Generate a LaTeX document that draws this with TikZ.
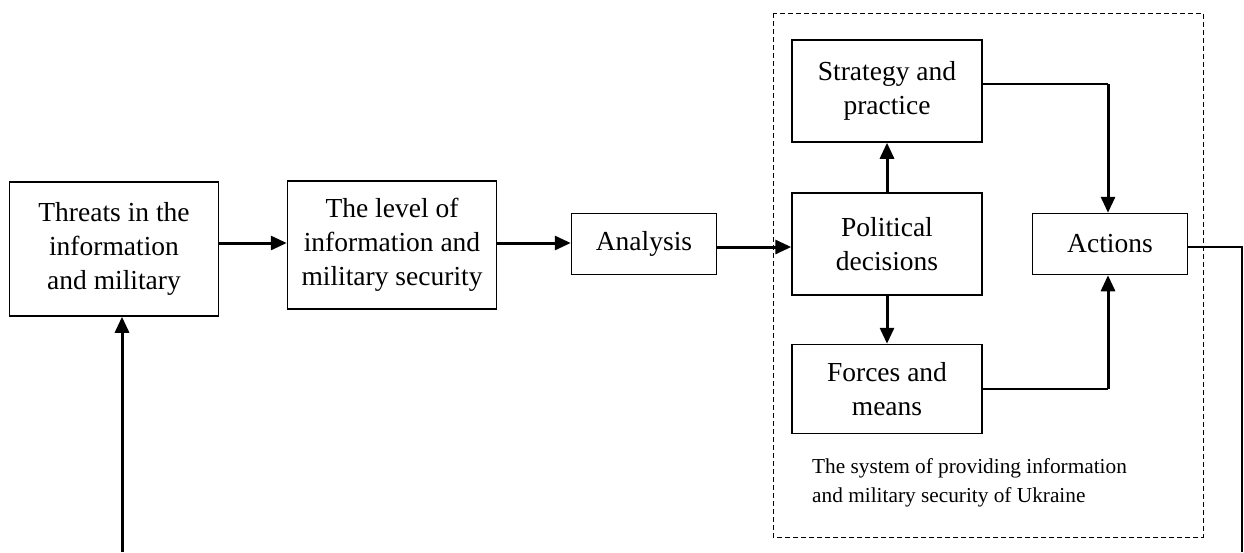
\documentclass[tikz,border=0pt]{standalone}
\usepackage{fontspec}
\setmainfont{Liberation Serif}
\usetikzlibrary{arrows.meta}

\begin{document}
\begin{tikzpicture}[x=1pt,y=-1pt,
	block/.style={draw, line width=1.5pt, align=center, inner sep=0pt,
		font=\fontsize{27.5}{34}\selectfont},
	link/.style={line width=3pt, -{Triangle[length=16pt,width=14pt]}}]
	\useasboundingbox (0,0) rectangle (1244,552);

	% system frame
	\draw [dash pattern=on 5pt off 3pt, line width=1pt] (773,13) rectangle (1203,537);
	\node [anchor=north west, align=left, inner sep=0pt,
		font=\fontsize{21.3}{29}\selectfont] (caption) at (812,458)
		{The system of providing information\\and military security of Ukraine};

	% blocks
	\node [block, minimum width=209, minimum height=134] (threats) at (114,249)
		{Threats in the\\information\\and military};
	\node [block, minimum width=209, minimum height=128] (level) at (392,245)
		{The level of\\information and\\military security};
	\node [block, minimum width=145, minimum height=61] (analysis) at (644,244) {Analysis};
	\node [block, minimum width=190, minimum height=102] (political) at (887,244)
		{Political\\decisions};
	\node [block, minimum width=190, minimum height=102] (strategy) at (887,91)
		{Strategy and\\practice};
	\node [block, minimum width=190, minimum height=89] (forces) at (887,389)
		{Forces and\\means};
	\node [block, minimum width=155, minimum height=61] (actions) at (1110,244) {Actions};

	% feedback ends
	\coordinate (outright) at (1242,552);
	\coordinate (inleft) at (122,552);

	% connectors
	\draw [link] (threats.east |- 0,243) -- (level.west |- 0,243);
	\draw [link] (level.east |- 0,243) -- (analysis.west |- 0,243);
	\draw [link] (analysis.east |- 0,247) -- (political.west |- 0,247);
	\draw [link] (political) -- (strategy);
	\draw [link] (political) -- (forces);
	\draw [line width=1.5pt] (strategy.east |- 0,84) -- (1108,84);
	\draw [link] (1108,84) -- (actions.north -| 1108,0);
	\draw [line width=1.5pt] (forces.east |- 0,389) -- (1108,389);
	\draw [link] (1108,389) -- (actions.south -| 1108,0);
	\draw [line width=2.2pt] (actions.east |- 0,247) -| (outright);
	\draw [link] (inleft) -- (threats.south -| inleft);
\end{tikzpicture}
\end{document}
